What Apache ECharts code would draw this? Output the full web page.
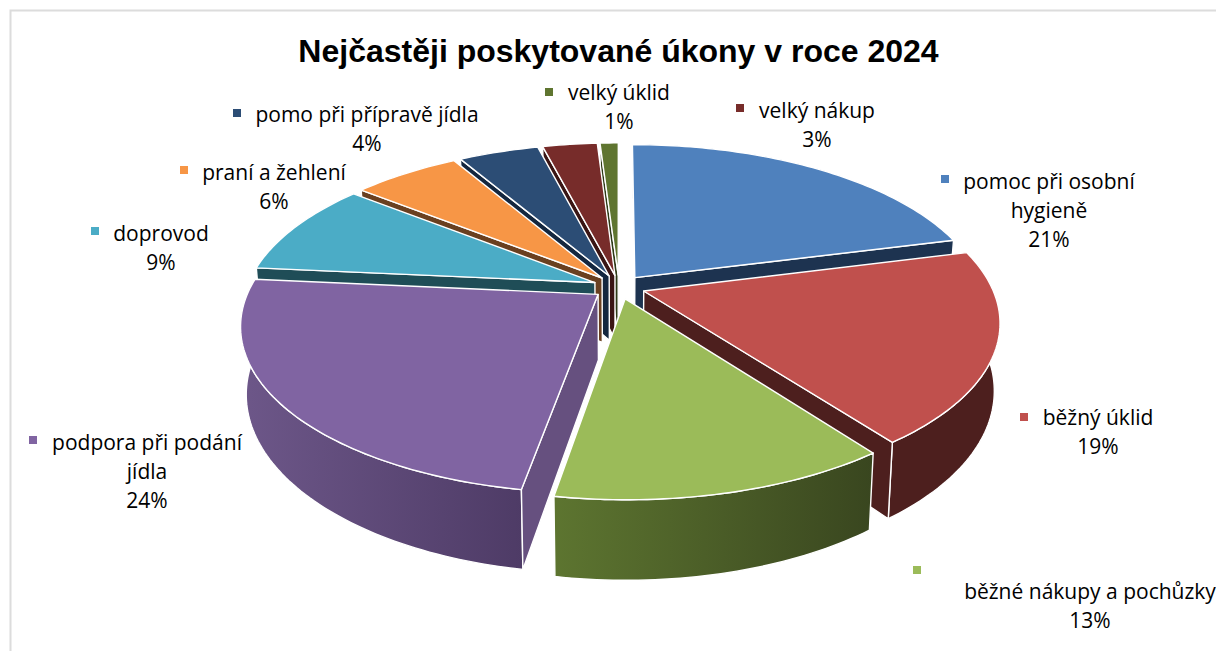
<!DOCTYPE html>
<html><head><meta charset="utf-8">
<style>html,body{margin:0;padding:0;background:#fff}#c{width:1216px;height:651px}</style>
<script src="https://cdn.jsdelivr.net/npm/echarts@6/dist/echarts.min.js"></script>
</head><body><div id="c"></div>
<script>
const titleText = 'Nejčastěji poskytované úkony v roce 2024';
const categories = ['pomoc při osobní\nhygieně','běžný úklid','běžné nákupy a pochůzky','podpora při podání\njídla','doprovod','praní a žehlení','pomo při přípravě jídla','velký nákup','velký úklid'];
const shares = [21,18.8,12.9,23.8,9.2,5.9,4.4,3,1];
const topColors = ['#4f81bd','#c0504d','#9bbb59','#8064a2','#4bacc6','#f79646','#2c4d75','#772c2a','#5f7530'];
const wallLight = ['#1d3350','#4d1f1e','#5d7530','#6d5789','#1f4d57','#6a4020','#14273f','#3a1514','#2e3a17'];
const wallDark  = ['#1d3350','#4d1f1e','#39461f','#4e3b66','#1f4d57','#6a4020','#14273f','#3a1514','#2e3a17'];
const cutColors = ['#1d3350','#4d1f1e','#3f4f22','#66507f','#1f4d57','#6a4020','#14273f','#3a1514','#2e3a17'];
const paintOrder = [8,7,6,5,4,0,3,1,2];
const labelBoxes = [
 {mx:945,my:179,tx:1049,ty:181},{mx:1024,my:417,tx:1098,ty:417},{mx:917,my:570,tx:1090,ty:591},
 {mx:33,my:440,tx:147,ty:442},{mx:95,my:231,tx:161,ty:233},{mx:184,my:170,tx:274,ty:172},
 {mx:237,my:113,tx:367,ty:114},{mx:740,my:108,tx:817,ty:110},{mx:549,my:92,tx:619,ty:92}];
const view = {cx:619,cy:287,R:348,Ry:160,k:0.18,D:65,shrink:0.985,explode:0.075};

function proj(u,v){const s=1/(1-view.k*v);return [view.cx+view.R*u*s,view.cy+view.Ry*v*s];}
function bottom(u,v){const s=1/(1-view.k*v);const p=proj(u,v);
  return [view.cx+(p[0]-view.cx)*view.shrink,p[1]+view.D*s];}
const total = shares.reduce((a,b)=>a+b,0);

function renderItem(params,api){
  const i=params.dataIndex, val=api.value(0);
  let before=0; for(let j=0;j<i;j++) before+=shares[j];
  const a0=before/total*2*Math.PI, a1=(before+val)/total*2*Math.PI, am=(a0+a1)/2;
  const ox=Math.sin(am)*view.explode, oy=-Math.cos(am)*view.explode;
  const n=Math.max(4,Math.ceil((a1-a0)/0.02));
  const ring=[];
  for(let t=0;t<=n;t++){const a=a0+(a1-a0)*t/n;ring.push([Math.sin(a)+ox,-Math.cos(a)+oy]);}
  const apexTop=proj(ox,oy), apexBot=bottom(ox,oy);
  const topPts=ring.map(r=>proj(r[0],r[1])), botPts=ring.map(r=>bottom(r[0],r[1]));
  const z=paintOrder.indexOf(i)*10+1;
  const edge={stroke:'#ffffff',lineWidth:1.4,lineJoin:'round'};
  const poly=(pts,fill,dz)=>({type:'polygon',z2:z+dz,shape:{points:pts},style:Object.assign({fill},edge)});
  const grad={type:'linear',x:0,y:0,x2:1,y2:0,colorStops:[{offset:0,color:wallLight[i]},{offset:1,color:wallDark[i]}]};
  const box=labelBoxes[i];
  const children=[poly(topPts.concat(botPts.slice().reverse()),grad,0)];
  if(Math.sin(a0)<-1e-6) children.push(poly([apexTop,topPts[0],botPts[0],apexBot],cutColors[i],1));
  if(Math.sin(a1)>1e-6) children.push(poly([apexTop,topPts[n],botPts[n],apexBot],cutColors[i],1));
  children.push(poly([apexTop].concat(topPts),topColors[i],2));
  children.push({type:'rect',z2:500,shape:{x:box.mx-4,y:box.my-4,width:8,height:8},style:{fill:topColors[i]}});
  children.push({type:'text',z2:500,x:box.tx,y:box.ty-15,style:{text:categories[i]+'\n'+Math.round(val/total*100)+'%',
      font:'21px "Open Sans"',fill:'#000000',align:'center',verticalAlign:'top',lineHeight:29.3}});
  return {type:'group',children};
}
const chart=echarts.init(document.getElementById('c'),null,{renderer:'svg'});
chart.setOption({
  animation:false,
  backgroundColor:'#ffffff',
  title:{text:titleText,left:613.5,top:30,textAlign:'center',textStyle:{fontFamily:'Liberation Sans',fontWeight:'bold',fontSize:32,color:'#000'}},
  graphic:[{type:'polyline',silent:true,shape:{points:[[10.5,651],[10.5,10.5],[1216,10.5]]},style:{stroke:'#dcdcdc',lineWidth:2,fill:null}}],
  series:[{type:'custom',coordinateSystem:'none',renderItem,data:shares.map(v=>[v]),silent:true}]
});
</script></body></html>
